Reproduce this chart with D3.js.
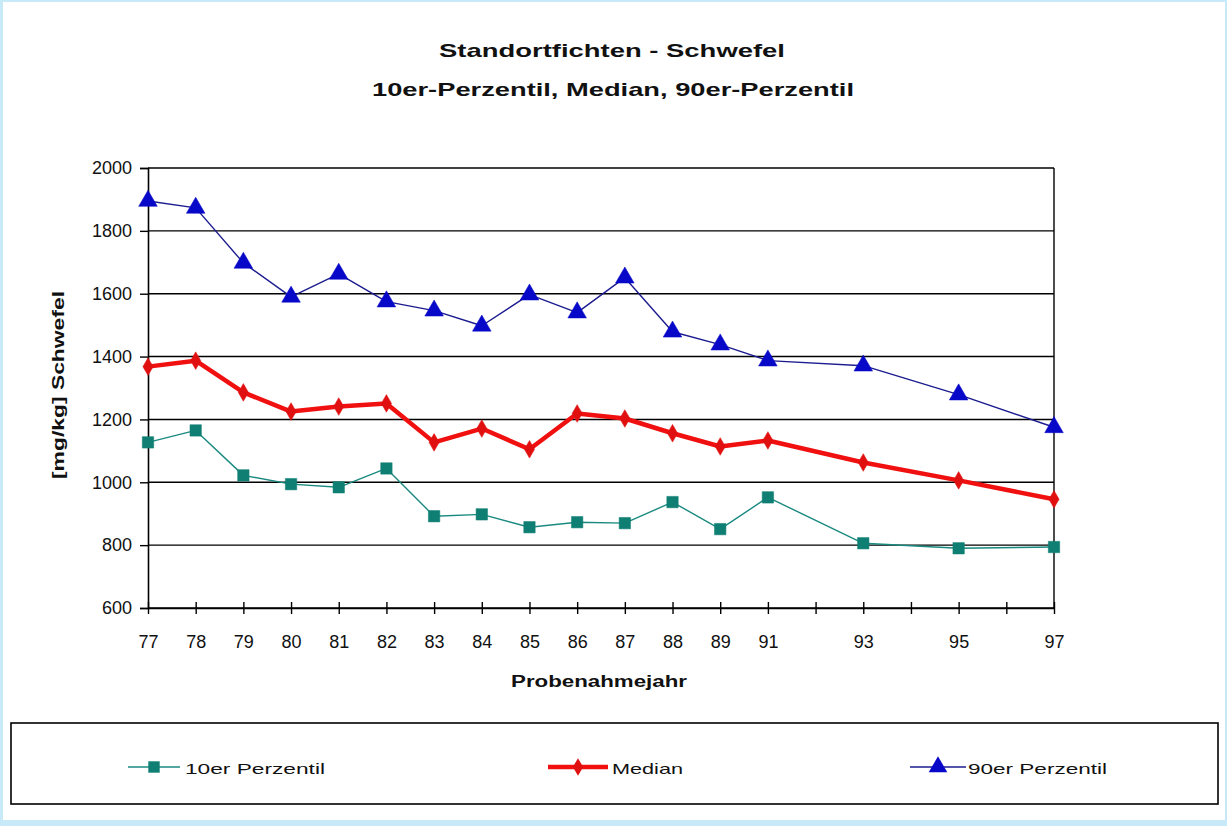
<!DOCTYPE html>
<html>
<head>
<meta charset="utf-8">
<script src="https://cdn.jsdelivr.net/npm/d3@7"></script>
<style>
  html, body { margin: 0; padding: 0; background: #fff; }
  svg { display: block; }
  text { font-family: "Liberation Sans", Arial, sans-serif; }
</style>
</head>
<body>
<svg id="chart" width="1227" height="826"></svg>
<script>
// Sampling years (empty strings are unsampled years that still hold a slot on the axis)
const years = ["77","78","79","80","81","82","83","84","85","86","87","88","89","91","","93","","95","","97"];

// Sulphur content [mg/kg], null where no sample was taken
const p10 = [1127,1165,1022,994,984,1044,892,898,857,873,870,937,851,952,null,806,null,790,null,794];
const median = [1368,1387,1286,1225,1241,1251,1127,1171,1105,1219,1203,1156,1114,1133,null,1063,null,1006,null,946];
const p90 = [1895,1873,1698,1590,1663,1575,1546,1498,1597,1540,1651,1479,1438,1387,null,1371,null,1279,null,1175];

const yTicks = [600,800,1000,1200,1400,1600,1800,2000];
const seriesNames = ["10er Perzentil","Median","90er Perzentil"];

const svg = d3.select("#chart");
const W = 1227, H = 826;
const wideFont = "'DejaVu Sans', Verdana, sans-serif";

// light blue page frame
svg.append("rect").attr("x",0).attr("y",0).attr("width",W).attr("height",H).attr("fill","#c8e9f8");
svg.append("rect").attr("x",3).attr("y",2).attr("width",W-5).attr("height",H-8).attr("fill","#fff");

const plot = {left:148, right:1054, top:168, bottom:608};

const x = d3.scalePoint().domain(d3.range(years.length)).range([plot.left, plot.right]);
const y = d3.scaleLinear().domain([600,2000]).range([plot.bottom, plot.top]);

// horizontal gridlines
svg.append("g").selectAll("line").data(yTicks).join("line")
  .attr("x1",plot.left).attr("x2",plot.right)
  .attr("y1",d=>y(d)).attr("y2",d=>y(d))
  .attr("stroke","#000").attr("stroke-width",1.4);

// right border of plot area
svg.append("line").attr("x1",plot.right).attr("x2",plot.right)
  .attr("y1",plot.top).attr("y2",plot.bottom).attr("stroke","#000").attr("stroke-width",1.4);

// y axis
const yAxis = svg.append("g").attr("transform",`translate(${plot.left},0)`)
  .call(d3.axisLeft(y).tickValues(yTicks).tickSize(8).tickPadding(8).tickFormat(d3.format("d")));
yAxis.select(".domain").attr("stroke","#000").attr("stroke-width",1.6);
yAxis.selectAll(".tick line").attr("stroke","#000").attr("stroke-width",1.4);
yAxis.selectAll(".tick text").attr("font-size",18).attr("fill","#111")
  .attr("font-family","'Liberation Sans', Arial, sans-serif");

// x axis with ticks crossing the axis line
const xAxis = svg.append("g").attr("transform",`translate(0,${plot.bottom})`)
  .call(d3.axisBottom(x).tickSize(6).tickPadding(21).tickFormat(i=>years[i]).tickSizeOuter(0));
xAxis.select(".domain").attr("stroke","#000").attr("stroke-width",1.6);
xAxis.selectAll(".tick line").attr("y1",-6).attr("y2",6).attr("stroke","#000").attr("stroke-width",1.4);
xAxis.selectAll(".tick text").attr("font-size",18).attr("fill","#111")
  .attr("font-family","'Liberation Sans', Arial, sans-serif");

// titles
svg.append("text").attr("x",612).attr("y",57).attr("text-anchor","middle")
  .attr("font-family",wideFont).attr("font-weight","bold").attr("font-size",19).attr("fill","#111")
  .attr("textLength",346).attr("lengthAdjust","spacingAndGlyphs")
  .text("Standortfichten - Schwefel");
svg.append("text").attr("x",613).attr("y",96).attr("text-anchor","middle")
  .attr("font-family",wideFont).attr("font-weight","bold").attr("font-size",19).attr("fill","#111")
  .attr("textLength",482).attr("lengthAdjust","spacingAndGlyphs")
  .text("10er-Perzentil, Median, 90er-Perzentil");

svg.append("text").attr("x",599).attr("y",687).attr("text-anchor","middle")
  .attr("font-family",wideFont).attr("font-weight","bold").attr("font-size",16).attr("fill","#111")
  .attr("textLength",176).attr("lengthAdjust","spacingAndGlyphs")
  .text("Probenahmejahr");

svg.append("text").attr("transform","translate(64,385) rotate(-90)").attr("text-anchor","middle")
  .attr("font-family",wideFont).attr("font-weight","bold").attr("font-size",16).attr("fill","#111")
  .attr("textLength",188).attr("lengthAdjust","spacingAndGlyphs")
  .text("[mg/kg] Schwefel");

// series definitions
const series = [
  {name:seriesNames[0], values:p10, line:"#1a8a80", width:1.4, fill:"#0f7f73", shape:d3.symbolSquare, size:130, tl:140},
  {name:seriesNames[1], values:median, line:"#f01010", width:4.5, fill:"#e01010", shape:d3.symbolDiamond, size:90, tl:71},
  {name:seriesNames[2], values:p90, line:"#1c1c90", width:1.4, fill:"#0808c8", shape:d3.symbolTriangle, size:150, tl:139}
];

const lineGen = d3.line().x(d=>x(d.i)).y(d=>y(d.v));

series.forEach(s=>{
  const pts = s.values.map((v,i)=>({i,v})).filter(d=>d.v!==null);
  svg.append("path").datum(pts).attr("d",lineGen)
    .attr("fill","none").attr("stroke",s.line).attr("stroke-width",s.width).attr("stroke-linejoin","round");
  svg.append("g").selectAll("path").data(pts).join("path")
    .attr("transform",d=>`translate(${x(d.i)},${y(d.v)})`)
    .attr("d",d3.symbol().type(s.shape).size(s.size))
    .attr("fill",s.fill).attr("stroke",s.fill).attr("stroke-width",0.5);
});

// legend
svg.append("rect").attr("x",11).attr("y",723).attr("width",1207).attr("height",81)
  .attr("fill","#fff").attr("stroke","#000").attr("stroke-width",1.6);

const legendPos = [{x1:128,x2:180,ty:185},{x1:548,x2:608,ty:612},{x1:910,x2:966,ty:968}];
series.forEach((s,k)=>{
  const p = legendPos[k], ly = 767;
  svg.append("line").attr("x1",p.x1).attr("x2",p.x2).attr("y1",ly).attr("y2",ly)
    .attr("stroke",s.line).attr("stroke-width",s.width);
  svg.append("path").attr("transform",`translate(${(p.x1+p.x2)/2},${ly})`)
    .attr("d",d3.symbol().type(s.shape).size(s.size)).attr("fill",s.fill);
  svg.append("text").attr("x",p.ty).attr("y",ly+7)
    .attr("font-family",wideFont).attr("font-size",15).attr("fill","#111")
    .attr("textLength",s.tl).attr("lengthAdjust","spacingAndGlyphs")
    .text(s.name);
});
</script>
</body>
</html>
